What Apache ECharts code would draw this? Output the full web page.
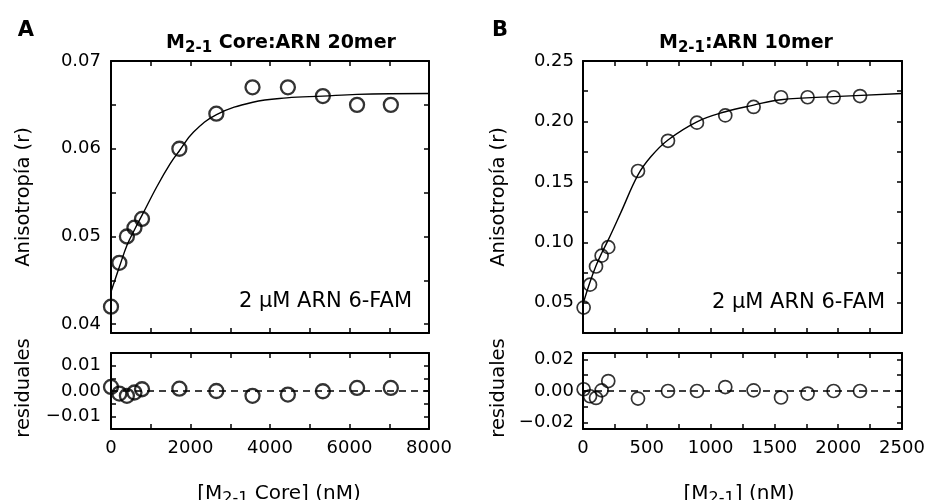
<!DOCTYPE html>
<html>
<head>
<meta charset="utf-8">
<script src="https://cdn.jsdelivr.net/npm/echarts@6/dist/echarts.min.js"></script>
<style>
html,body{margin:0;padding:0;background:#fff;}
#chart{width:928px;height:500px;}
</style>
</head>
<body>
<div id="chart"></div>
<script>
// ---------- Panel A data (M2-1 Core : ARN 20mer) ----------
const aX   = [0, 210, 400, 590, 780, 1720, 2650, 3560, 4450, 5330, 6190, 7040];
const aY   = [0.042, 0.047, 0.050, 0.051, 0.052, 0.060, 0.064, 0.067, 0.067, 0.066, 0.065, 0.065];
const aRes = [0.0016, -0.0010, -0.0019, -0.0006, 0.0007, 0.0009, 0.0000, -0.0019, -0.0014, -0.0001, 0.0012, 0.0012];
const aFitX = [0, 216, 402, 594, 779, 1156, 1490, 1725, 2077, 2655, 3568, 4423, 5328, 6190, 8000];
const aFitY = [0.0437, 0.0466, 0.0490, 0.0508, 0.0524, 0.0557, 0.0583, 0.0598, 0.0619, 0.0639, 0.0653, 0.0658, 0.0660, 0.0662, 0.0663];

// ---------- Panel B data (M2-1 : ARN 10mer) ----------
const bX   = [5, 55, 102, 146, 198, 431, 666, 893, 1115, 1337, 1552, 1760, 1964, 2171];
const bY   = [0.046, 0.065, 0.080, 0.089, 0.096, 0.159, 0.184, 0.199, 0.205, 0.212, 0.220, 0.220, 0.220, 0.221];
const bRes = [0.0011, -0.0033, -0.0044, 0.0004, 0.0063, -0.0048, 0.0000, 0.0000, 0.0025, 0.0004, -0.0041, -0.0016, 0.0000, 0.0000];
const bFitX = [0, 55, 102, 146, 198, 298, 431, 533, 666, 893, 1115, 1337, 1552, 1964, 2500];
const bFitY = [0.049, 0.0672, 0.0806, 0.0910, 0.1020, 0.1250, 0.1558, 0.1710, 0.1847, 0.1997, 0.2080, 0.2135, 0.2180, 0.2205, 0.2231];

// ---------- Axis ticks / labels ----------
const aMainYTicks  = [0.04, 0.045, 0.05, 0.055, 0.06, 0.065, 0.07];
const aMainYLabels = [0.04, 0.05, 0.06, 0.07];
const aXTicks      = [0, 1000, 2000, 3000, 4000, 5000, 6000, 7000, 8000];
const aXLabels     = [0, 2000, 4000, 6000, 8000];
const aResYTicks   = [-0.015, -0.01, -0.005, 0, 0.005, 0.01, 0.015];
const aResYLabels  = [-0.01, 0, 0.01];

const bMainYTicks  = [0.025, 0.05, 0.075, 0.1, 0.125, 0.15, 0.175, 0.2, 0.225, 0.25];
const bMainYLabels = [0.05, 0.10, 0.15, 0.20, 0.25];
const bXTicks      = [0, 250, 500, 750, 1000, 1250, 1500, 1750, 2000, 2250, 2500];
const bXLabels     = [0, 500, 1000, 1500, 2000, 2500];
const bResYTicks   = [-0.02, -0.01, 0, 0.01, 0.02];
const bResYLabels  = [-0.02, 0, 0.02];

const zeroLine = 0;

const FONT = 'DejaVu Sans';
const pair = (xs, ys) => xs.map((x, i) => [x, ys[i]]);
const fmt2 = v => v.toFixed(2).replace('-', '\u2212');
const fmtInt = v => String(Math.round(v));

function axis(gridIndex, position, min, max, ticks, labels, fmt, margin) {
  return {
    type: 'value', gridIndex, position, min, max,
    axisLine: { show: true, onZero: false, lineStyle: { color: '#000', width: 2 } },
    axisTick: { show: true, inside: true, length: 5, customValues: ticks,
                lineStyle: { color: '#000', width: 1.5 } },
    axisLabel: labels ? { show: true, customValues: labels, formatter: fmt, color: '#000',
                          fontSize: 18, fontFamily: FONT, margin: margin || 8 } : { show: false },
    splitLine: { show: false }
  };
}

const grids = [
  { left: 111, top: 61, width: 318, height: 272 },
  { left: 111, top: 353, width: 318, height: 76 },
  { left: 583, top: 61, width: 319, height: 272 },
  { left: 583, top: 353, width: 319, height: 76 }
];

const xAxes = [
  axis(0, 'bottom', 0, 8000, aXTicks, null),
  axis(0, 'top', 0, 8000, aXTicks, null),
  axis(1, 'bottom', 0, 8000, aXTicks, aXLabels, fmtInt, 10),
  axis(1, 'top', 0, 8000, aXTicks, null),
  axis(2, 'bottom', 0, 2500, bXTicks, null),
  axis(2, 'top', 0, 2500, bXTicks, null),
  axis(3, 'bottom', 0, 2500, bXTicks, bXLabels, fmtInt, 10),
  axis(3, 'top', 0, 2500, bXTicks, null)
];
const yAxes = [
  axis(0, 'left', 0.039, 0.07, aMainYTicks, aMainYLabels, fmt2, 10),
  axis(0, 'right', 0.039, 0.07, aMainYTicks, null),
  axis(1, 'left', -0.015, 0.015, aResYTicks, aResYLabels, fmt2, 10),
  axis(1, 'right', -0.015, 0.015, aResYTicks, null),
  axis(2, 'left', 0.025, 0.25, bMainYTicks, bMainYLabels, fmt2, 9),
  axis(2, 'right', 0.025, 0.25, bMainYTicks, null),
  axis(3, 'left', -0.024, 0.024, bResYTicks, bResYLabels, fmt2, 9),
  axis(3, 'right', -0.024, 0.024, bResYTicks, null)
];

function scatter(xi, yi, data, size, bw, zero) {
  const s = {
    type: 'scatter', xAxisIndex: xi, yAxisIndex: yi, data,
    symbol: 'circle', symbolSize: size, z: 5,
    itemStyle: { color: 'rgba(255,255,255,0)', borderColor: '#000', borderWidth: bw }
  };
  if (zero !== undefined) {
    s.markLine = {
      silent: true, symbol: ['none', 'none'], label: { show: false },
      lineStyle: { color: '#000', width: 1.5, type: [7, 5] },
      data: [{ yAxis: zero }]
    };
  }
  return s;
}
function fit(xi, yi, data) {
  return {
    type: 'line', xAxisIndex: xi, yAxisIndex: yi, data, smooth: 0.4,
    showSymbol: false, symbol: 'none', z: 3,
    lineStyle: { color: '#000', width: 1.4 }
  };
}

function txt(x, y, text, size, opts) {
  opts = opts || {};
  return {
    type: 'text', x, y, rotation: opts.rot || 0, z: 10,
    style: {
      text, fill: '#000', fontFamily: FONT, fontSize: size,
      fontWeight: opts.weight || 'normal',
      align: opts.align || 'center', verticalAlign: 'middle',
      rich: opts.rich || undefined
    }
  };
}
const subRich = (size, weight) => ({
  n: { fontFamily: FONT, fontSize: size, fontWeight: weight, lineHeight: 26, verticalAlign: 'middle', fill: '#000' },
  s: { fontFamily: FONT, fontSize: Math.round(size * 0.78), fontWeight: weight, verticalAlign: 'bottom', fill: '#000' }
});

const chart = echarts.init(document.getElementById('chart'), null, { renderer: 'canvas' });
chart.setOption({
  animation: false,
  backgroundColor: '#fff',
  grid: grids,
  xAxis: xAxes,
  yAxis: yAxes,
  series: [
    scatter(0, 0, pair(aX, aY), 14, 2.3),
    fit(0, 0, pair(aFitX, aFitY)),
    scatter(2, 2, pair(aX, aRes), 14, 2.3, zeroLine),
    scatter(4, 4, pair(bX, bY), 13, 1.7),
    fit(4, 4, pair(bFitX, bFitY)),
    scatter(6, 6, pair(bX, bRes), 13, 1.7, zeroLine)
  ],
  graphic: [
    txt(26, 31, 'A', 21, { weight: 'bold' }),
    txt(500, 31, 'B', 21, { weight: 'bold' }),
    txt(281, 43, '{n|M}{s|2-1}{n| Core:ARN 20mer}', 19, { rich: subRich(19, 'bold') }),
    txt(746, 43, '{n|M}{s|2-1}{n|:ARN 10mer}', 19, { rich: subRich(19, 'bold') }),
    txt(24, 197, 'Anisotropía (r)', 19.5, { rot: Math.PI / 2 }),
    txt(24, 388, 'residuales', 19.5, { rot: Math.PI / 2 }),
    txt(499, 197, 'Anisotropía (r)', 19.5, { rot: Math.PI / 2 }),
    txt(499, 388, 'residuales', 19.5, { rot: Math.PI / 2 }),
    txt(279, 494, '{n|[M}{s|2-1}{n| Core] (nM)}', 20, { rich: subRich(20, 'normal') }),
    txt(739, 494, '{n|[M}{s|2-1}{n|] (nM)}', 20, { rich: subRich(20, 'normal') }),
    txt(412, 302, '2 µM ARN 6-FAM', 21, { align: 'right' }),
    txt(885, 303, '2 µM ARN 6-FAM', 21, { align: 'right' })
  ]
});
</script>
</body>
</html>
